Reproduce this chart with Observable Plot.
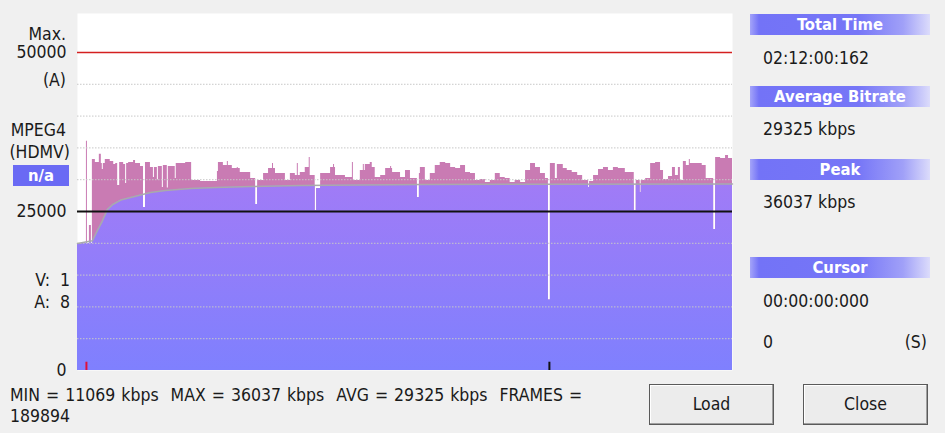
<!DOCTYPE html>
<html><head><meta charset="utf-8">
<script src="https://cdn.jsdelivr.net/npm/d3@7"></script>
<script src="https://cdn.jsdelivr.net/npm/@observablehq/plot@0.6"></script>
<style>
html,body{margin:0;padding:0;background:#f0f0f0;width:945px;height:433px;overflow:hidden;font-family:"DejaVu Sans Condensed","DejaVu Sans",sans-serif;font-stretch:condensed;color:#1a1a1a;}
#chart{position:absolute;left:0;top:0;}
.t{position:absolute;white-space:nowrap;font-size:17.5px;line-height:20px;}
.r{text-align:right;}
.hdr{position:absolute;left:750px;width:180px;height:21px;background:linear-gradient(to right,#a4a4f9 0%,#7373f7 5%,#7676f7 60%,#a0a0f8 85%,#dcdcfb 100%);color:#fff;font-weight:bold;text-align:center;font-size:16.5px;line-height:21px;}
.na{position:absolute;left:13px;top:165px;width:56px;height:21px;background:#6a6af4;color:#fff;text-align:center;font-size:16.5px;line-height:21px;font-weight:bold;}
.btn{position:absolute;top:384px;width:123px;height:39px;background:#ececec;border:1px solid #5a5a5a;box-shadow:inset -1px -1px 0 #a0a0a0,inset 1px 1px 0 #ffffff;text-align:center;line-height:39px;font-size:17.5px;}
</style></head><body>
<div id="chart"></div>
<div class="t r" style="right:879px;top:24px">Max.</div>
<div class="t r" style="right:879px;top:70px">(A)</div>
<div class="t r" style="right:879px;top:120px">MPEG4</div>
<div class="t r" style="right:875px;top:142px">(HDMV)</div>
<div class="na">n/a</div>
<div class="t r" style="right:875px;top:270px">V:&nbsp; 1</div>
<div class="t r" style="right:875px;top:292px">A:&nbsp; 8</div>
<div class="t" style="left:10px;top:385px;word-spacing:1px">MIN = 11069 kbps&nbsp; MAX = 36037 kbps&nbsp; AVG = 29325 kbps&nbsp; FRAMES =</div>
<div class="t" style="left:10px;top:406px">189894</div>
<div class="hdr" style="top:14px">Total Time</div>
<div class="t" style="left:763px;top:48px">02:12:00:162</div>
<div class="hdr" style="top:86px">Average Bitrate</div>
<div class="t" style="left:763px;top:119px">29325 kbps</div>
<div class="hdr" style="top:159px">Peak</div>
<div class="t" style="left:763px;top:192px">36037 kbps</div>
<div class="hdr" style="top:257px">Cursor</div>
<div class="t" style="left:763px;top:291px">00:00:00:000</div>
<div class="t" style="left:763px;top:332px">0</div>
<div class="t r" style="right:18px;top:332px">(S)</div>
<div class="btn" style="left:649px">Load</div>
<div class="btn" style="left:803px">Close</div>
<script>
// time (minutes) at which each bitrate step starts
const startMin = [0.0,1.8,2.0,2.4,2.8,3.0,3.6,4.4,4.8,5.0,5.2,5.6,6.6,7.3,7.7,8.1,8.5,9.3,9.7,9.9,10.3,11.3,11.7,12.7,13.3,13.7,14.7,15.3,15.5,16.1,16.3,17.1,17.3,18.1,18.3,19.7,19.9,21.8,23.0,24.8,26.8,28.2,28.4,29.4,30.2,30.4,31.2,32.2,32.4,32.8,34.9,35.9,36.3,37.5,38.5,39.3,39.5,39.9,41.9,42.9,43.9,44.3,44.5,44.9,45.9,46.7,46.9,47.9,48.2,49.0,51.0,51.6,51.8,52.0,54.0,55.4,55.6,57.0,57.6,57.8,58.0,59.0,59.4,60.0,61.1,62.1,63.1,63.3,63.5,65.1,66.1,67.1,68.5,68.9,69.1,70.1,71.1,72.1,73.1,74.2,75.2,76.2,77.2,78.2,79.2,80.2,81.2,82.2,83.2,84.2,85.2,86.2,87.2,88.2,89.3,90.3,91.3,92.3,93.3,94.3,94.9,95.3,96.3,96.7,97.9,98.7,99.7,100.8,101.8,103.0,103.2,104.0,105.0,106.0,107.0,108.0,109.0,110.4,112.2,112.6,113.4,113.6,114.5,115.5,116.5,117.5,118.1,119.1,119.9,120.5,121.1,121.5,122.1,122.7,123.3,123.5,125.9,126.7,128.2,128.6,129.6,130.6,131.2,132.0];
// bitrate (kbps) of each step
const kbps = [19960,36037,19960,22790,19960,33170,32700,34000,32540,31600,32540,33170,32850,32380,32540,29100,32700,32380,29400,32540,32700,33000,32540,32070,25620,32700,31910,30340,31910,30000,32070,28770,32230,28700,32070,30180,32540,32700,29870,29710,29700,31280,32700,32230,32850,32230,31750,31910,31750,31130,30180,26100,29870,30970,31750,32540,31750,30970,29870,30970,30650,32540,30650,31130,31910,33480,30650,25150,28610,30970,31910,32380,31910,30650,30340,32700,29870,31440,32380,31440,32380,32700,31910,30340,30650,31750,32070,31750,31130,30340,31440,30180,27200,30970,31910,29870,30970,32230,32700,32540,31910,31750,32230,31130,30970,29870,30030,29550,29870,30970,30340,30180,29550,29870,29550,31440,32540,31910,30970,30180,11069,32540,30180,32380,31750,31440,31130,30650,29870,28770,29710,30650,31600,31910,31440,31910,31750,31130,25150,29870,27980,29870,30180,32540,32700,31440,30030,30500,31910,30650,31910,29870,32850,32230,33170,32540,32230,30180,22170,33480,33330,33800,33330,33330];
// running average curve
const avgMin = [0,3.0,4.0,5.0,6.0,7.1,8.7,10.7,14.7,17.7,22.8,27.8,34.9,44.9,69.1,95.3,132];
const avgKbps = [19960,20400,22000,23500,25300,26100,26800,27200,27980,28300,28610,28770,28930,29080,29240,29280,29325];
const yTicks = [0, 25000, 50000];
const gridKbps = [5000,10000,15000,20000,30000,35000,40000,45000];
const maxKbps = [50000];
const refKbps = [25000];
const redMarkMin = [1.8];
const blackMarkMin = [95.1];

const bits = startMin.map((t, i) => ({t, v: kbps[i]}));
const avg = avgMin.map((t, i) => ({t, v: avgKbps[i]}));

const chart = Plot.plot({
  width: 740, height: 372,
  marginLeft: 77, marginRight: 8, marginTop: 13, marginBottom: 2,
  style: {background: "transparent", fontFamily: "'DejaVu Sans Condensed', 'DejaVu Sans', sans-serif", fontStretch: "condensed", fontSize: "17.5px", color: "#1a1a1a", overflow: "visible"},
  x: {domain: [0, 132], axis: null},
  y: {domain: [0, 56130], ticks: yTicks, tickSize: 0, tickPadding: 11, tickFormat: d => String(d), label: null},
  marks: [
    Plot.frame({fill: "white", stroke: "none"}),
    Plot.areaY(bits, {x: "t", y: "v", curve: "step-after", fill: "#c97bb3"}),
    Plot.areaY(avg, {x: "t", y: "v", fill: "url(#purpGrad)"}),
    Plot.ruleY(gridKbps, {stroke: "#c8c8c8", strokeDasharray: "1.5,1.5"}),
    Plot.lineY(avg, {x: "t", y: "v", stroke: "#aaaaaa", strokeWidth: 1.5}),
    Plot.ruleY(refKbps, {stroke: "#111", strokeWidth: 2}),
    Plot.ruleY(maxKbps, {stroke: "#d42020", strokeWidth: 1.5}),
    Plot.ruleX(redMarkMin, {y1: 0, y2: 1300, stroke: "#e0103a", strokeWidth: 2}),
    Plot.ruleX(blackMarkMin, {y1: 0, y2: 1300, stroke: "#111", strokeWidth: 2})
  ]
});

const sel = d3.select(chart);
const defs = sel.insert("defs", ":first-child");
const grad = defs.append("linearGradient").attr("id", "purpGrad")
  .attr("gradientUnits", "userSpaceOnUse").attr("x1", 0).attr("x2", 0).attr("y1", 13).attr("y2", 370);
grad.append("stop").attr("offset", "0").attr("stop-color", "#ad78f2");
grad.append("stop").attr("offset", "0.45").attr("stop-color", "#a27bf6");
grad.append("stop").attr("offset", "1").attr("stop-color", "#7f80fe");
const areas = chart.querySelectorAll('g[aria-label="area"] path');
if (areas.length >= 2) {
  defs.append("clipPath").attr("id", "bitsClip").append("path").attr("d", areas[0].getAttribute("d"));
  d3.select(areas[1].parentNode).attr("clip-path", "url(#bitsClip)");
}
document.getElementById("chart").appendChild(chart);
</script>
</body></html>
